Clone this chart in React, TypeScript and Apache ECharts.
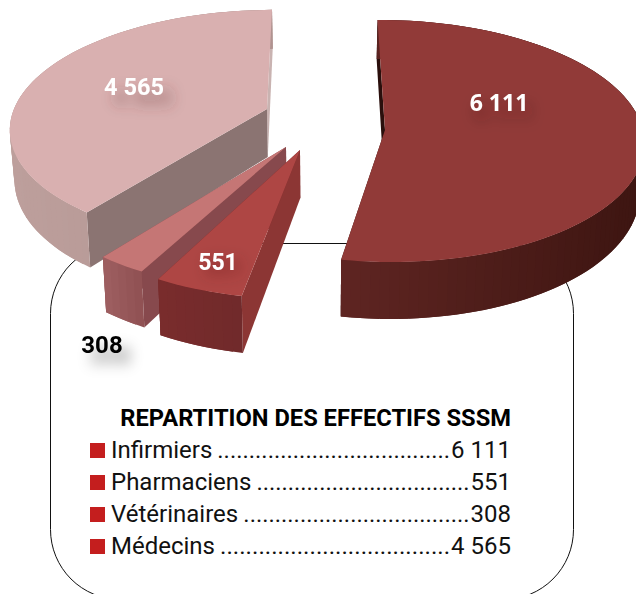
import React, { useEffect, useRef } from "react";
import * as echarts from "echarts";

const categories = ["Infirmiers", "Pharmaciens", "Vétérinaires", "Médecins"];
const values = [6111, 551, 308, 4565];
const tableTitle = "REPARTITION DES EFFECTIFS SSSM";

// Perspective placement of each exploded slice (styling, not data)
const sliceLayout = [
  { ax: 385, ay: 130, rx: 258, b: 120, k: 0.0909, order: 4 },
  { ax: 300, ay: 150, rx: 256, b: 124, k: 0.167, order: 3 },
  { ax: 286, ay: 147, rx: 256, b: 119.5, k: 0.167, order: 2 },
  { ax: 267, ay: 109, rx: 253, b: 114, k: 0.15, order: 1 },
];
const sliceStyle = [
  { top: "#913a38", outer: ["#5f2522", "#3d1511"], start: "#2a0f0c", end: "#3d1511" },
  { top: "#ae4644", outer: ["#7a2c2c", "#702a2b"], start: "#8c3634", end: "#772b2b" },
  { top: "#c57675", outer: ["#9e5f61", "#8f5052"], start: "#87494d", end: "#87494d" },
  { top: "#d9b0b0", outer: ["#bd9f9c", "#b09390"], start: "#8b7472", end: "#c9b3b1" },
];
const labelLayout = [
  { x: 499, y: 102, fill: "#ffffff", font: "bold 23px 'Open Sans'", sx: 5, sy: 9, color: "rgba(50,15,15,0.35)" },
  { x: 218, y: 262, fill: "#ffffff", font: "bold 23px Roboto", sx: 6, sy: 6, color: "rgba(80,20,20,0.4)" },
  { x: 102, y: 345, fill: "#000000", font: "bold 24px Roboto", sx: 8, sy: 11, color: "rgba(0,0,0,0.4)" },
  { x: 134, y: 87, fill: "#ffffff", font: "bold 23.5px Roboto", sx: 9, sy: 11, color: "rgba(90,50,50,0.45)" },
];

const START_ANGLE = -0.5;
const VANISH_X = 320;
const fmt = (v: number) => String(v).replace(/\B(?=(\d{3})+$)/g, " ");

function project(deg: number, radius: number, l: (typeof sliceLayout)[number]) {
  const t = (deg * Math.PI) / 180;
  const u = Math.sin(t) * radius;
  const v = Math.cos(t) * radius;
  const d = 1 + l.k * v;
  return {
    x: l.ax + (l.rx * u) / d + (VANISH_X - l.ax) * (1 - 1 / d),
    y: l.ay - (l.b * v) / d,
    v,
  };
}
function lower(p: { x: number; y: number; v: number }): number[] {
  const depth = 48 - 9 * p.v;
  return [VANISH_X + (p.x - VANISH_X) * 0.985, p.y + depth];
}

function renderSlice(params: any, api: any) {
  const i = params.dataIndex;
  const total = values.reduce((a, b) => a + b, 0);
  const before = values.slice(0, i).reduce((a, b) => a + b, 0);
  const a0 = START_ANGLE + (before / total) * 360;
  const a1 = START_ANGLE + ((before + api.value(0)) / total) * 360;
  const l = sliceLayout[i];
  const s = sliceStyle[i];
  const n = Math.max(4, Math.ceil((a1 - a0) / 2));
  const rim: any[] = [];
  for (let j = 0; j <= n; j++) rim.push(project(a0 + ((a1 - a0) * j) / n, 1, l));
  const apex = project(0, 0, l);
  const z = l.order * 10;
  const poly = (pts: number[][], fill: any, dz: number) => ({
    type: "polygon",
    z2: z + dz,
    shape: { points: pts },
    style: { fill, stroke: "none" },
  });
  const rimPts = rim.map((p) => [p.x, p.y]);
  const first = rim[0];
  const last = rim[rim.length - 1];
  const lab = labelLayout[i];
  const xs = rim.map((p) => p.x);
  const xMin = Math.min(...xs);
  const xMax = Math.max(...xs);
  const wallQuads: any[] = [];
  for (let j = 0; j < n; j++) {
    const p = rim[j];
    // each quad runs under the next one, so that no seam shows between them
    const q = rim[Math.min(j + 2, n)];
    const t = ((p.x + rim[j + 1].x) / 2 - xMin) / (xMax - xMin);
    wallQuads.push(poly([[p.x, p.y], [q.x, q.y], lower(q), lower(p)], echarts.color.lerp(t, s.outer), 2));
  }
  return {
    type: "group",
    children: [
      poly([[last.x, last.y], [apex.x, apex.y], lower(apex), lower(last)], s.end, 0),
      poly([[first.x, first.y], [apex.x, apex.y], lower(apex), lower(first)], s.start, 1),
      ...wallQuads,
      poly([[apex.x, apex.y], ...rimPts], s.top, 3),
      {
        type: "text",
        z2: 100 + i,
        style: {
          text: fmt(api.value(0)),
          x: lab.x,
          y: lab.y,
          fill: lab.fill,
          font: lab.font,
          align: "center",
          verticalAlign: "middle",
          textShadowColor: lab.color,
          textShadowBlur: 14,
          textShadowOffsetX: lab.sx,
          textShadowOffsetY: lab.sy,
        },
      },
    ],
  };
}

function measure(text: string, font: string) {
  const c = document.createElement("canvas").getContext("2d")!;
  c.font = font;
  return c.measureText(text).width;
}

function tableGraphics() {
  const font = "24px Roboto";
  const els: any[] = [
    {
      type: "rect",
      z: 0,
      shape: { x: 50.5, y: 243.5, width: 523, height: 356, r: 70 },
      style: { fill: "none", stroke: "#111111", lineWidth: 1 },
    },
    {
      type: "text",
      z: 1,
      style: {
        text: tableTitle,
        x: 511,
        y: 418,
        align: "right",
        verticalAlign: "middle",
        font: "bold 23.7px Roboto",
        fill: "#000000",
      },
    },
  ];
  categories.forEach((name, i) => {
    const y = 450 + i * 32;
    const valueText = fmt(values[i]);
    const nameW = measure(name, font);
    const valW = measure(valueText, font);
    const startX = 111 + nameW + 5;
    const endX = 511 - valW - 1;
    const dotW = measure(".", font);
    const count = Math.round((endX - startX) / dotW);
    const dotSize = (24 * (endX - startX)) / (count * dotW);
    els.push(
      { type: "rect", z: 1, shape: { x: 90, y: y - 7, width: 15, height: 15 }, style: { fill: "#c41e1e" } },
      { type: "text", z: 1, style: { text: name, x: 111, y, font, fill: "#111111", verticalAlign: "middle" } },
      { type: "text", z: 1, style: { text: ".".repeat(Math.max(0, count)), x: endX, y, font: `${dotSize.toFixed(2)}px Roboto`, fill: "#111111", align: "right", verticalAlign: "middle" } },
      { type: "text", z: 1, style: { text: valueText, x: 511, y, font, fill: "#111111", align: "right", verticalAlign: "middle" } }
    );
  });
  return els;
}

export default function App() {
  const ref = useRef<HTMLDivElement>(null);
  useEffect(() => {
    document.body.style.margin = "0";
    const chart = echarts.init(ref.current!, undefined, { renderer: "svg" });
    chart.setOption({
      animation: false,
      backgroundColor: "#ffffff",
      graphic: { elements: tableGraphics() },
      series: [
        {
          type: "custom",
          coordinateSystem: "none",
          z: 5,
          data: values.map((v) => [v]),
          renderItem: renderSlice,
        },
      ],
    });
    return () => chart.dispose();
  }, []);
  return <div ref={ref} style={{ width: 636, height: 594 }} />;
}
